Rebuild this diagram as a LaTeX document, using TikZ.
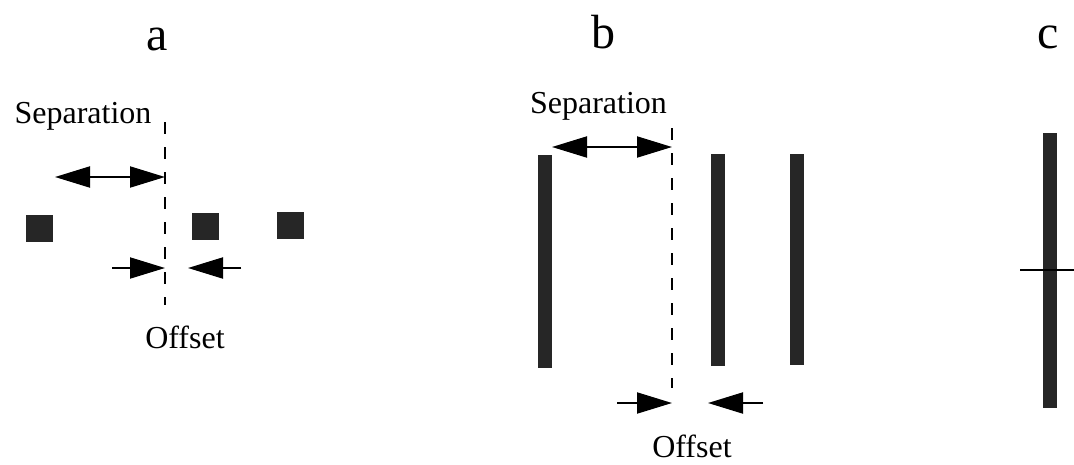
\documentclass[tikz,border=0pt]{standalone}
\usepackage{fontspec}
\setmainfont{Liberation Serif}
\usetikzlibrary{arrows.meta}
\definecolor{ink}{gray}{0.15}

\begin{document}
\begin{tikzpicture}[x=1pt,y=-1pt,>={Triangle[length=35pt,width=21pt]},
  dot/.style={fill=ink,minimum size=27pt,inner sep=0pt},
  bar/.style={fill=ink,minimum width=14pt,inner sep=0pt},
  guide/.style={line width=1.8pt,dash pattern=on 12pt off 13pt},
  dim/.style={line width=2pt,draw=black,fill=ink},
  lbl/.style={font=\fontsize{32}{36}\selectfont,inner sep=0pt},
  title/.style={font=\fontsize{48}{52}\selectfont,inner sep=0pt}]
\useasboundingbox (0,0) rectangle (1074,464);
% a: squares
\node[title,anchor=base] (ta) at (157,50) {a};
\node[lbl,anchor=base] (sepa) at (83,123) {Separation};
\node[dot] (a1) at (39.5,228) {};
\node[dot] (a2) at (205.5,226.5) {};
\node[dot] (a3) at (290,225) {};
\coordinate (atop) at (165,122);
\coordinate (abot) at (165,305);
\draw[guide] (atop) -- (abot);
\coordinate (asl) at (55,177);
\coordinate (asr) at (165,177);
\draw[dim,<->] (asl) -- (asr);
\coordinate (aol) at (112,268);
\coordinate (aoi) at (165,268);
\coordinate (aor) at (241,268);
\coordinate (aoj) at (188,268);
\draw[dim,->] (aol) -- (aoi);
\draw[dim,->] (aor) -- (aoj);
\node[lbl,anchor=base] (offa) at (185,348) {Offset};
% b: bars
\node[title,anchor=base] (tb) at (603,48) {b};
\node[lbl,anchor=base] (sepb) at (598.5,113) {Separation};
\node[bar,minimum height=213pt] (b1) at (545,261.5) {};
\node[bar,minimum height=212pt] (b2) at (717.5,260) {};
\node[bar,minimum height=211pt] (b3) at (797,259.5) {};
\coordinate (btop) at (672,128);
\coordinate (bbot) at (672,388);
\draw[guide] (btop) -- (bbot);
\coordinate (bsl) at (552,147);
\coordinate (bsr) at (672,147);
\draw[dim,<->] (bsl) -- (bsr);
\coordinate (bol) at (617,403);
\coordinate (boi) at (672,403);
\coordinate (bor) at (763,403);
\coordinate (boj) at (708,403);
\draw[dim,->] (bol) -- (boi);
\draw[dim,->] (bor) -- (boj);
\node[lbl,anchor=base] (offb) at (692,457) {Offset};
% c: single bar
\node[title,anchor=base] (tc) at (1048,48) {c};
\node[bar,minimum height=275pt] (c1) at (1050,270.5) {};
\coordinate (cl) at (1020,270);
\coordinate (cr) at (1074,270);
\draw[line width=2pt] (cl) -- (cr);
\end{tikzpicture}
\end{document}
